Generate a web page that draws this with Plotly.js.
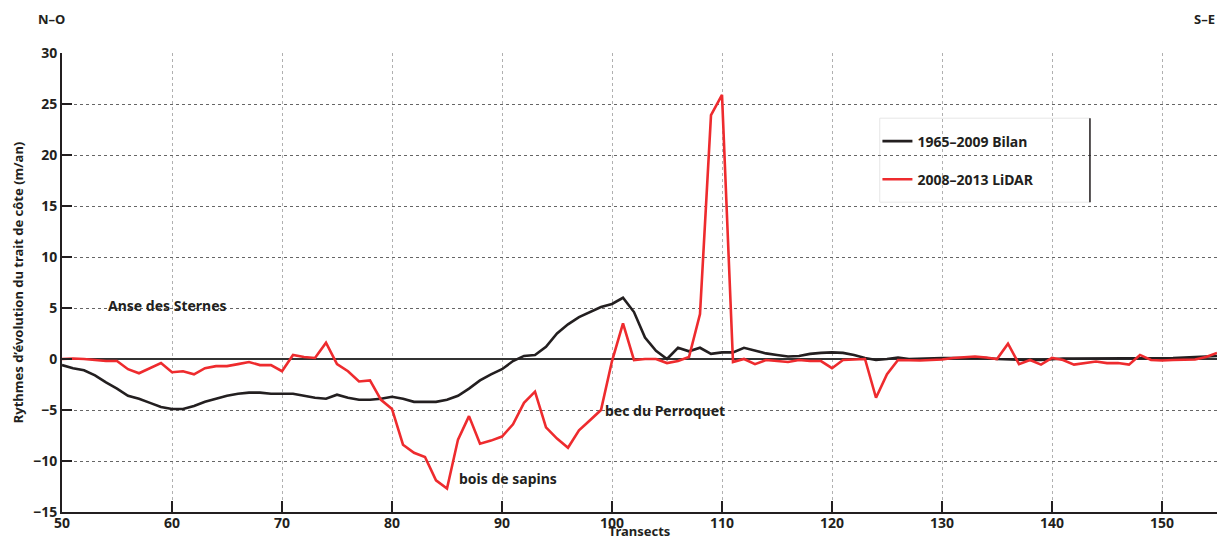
<!DOCTYPE html>
<html><head><meta charset="utf-8">
<script src="https://cdn.plot.ly/plotly-3.0.1.min.js"></script>
<style>body{margin:0;background:#fff}#c{width:1228px;height:540px}</style>
</head><body><div id="c"></div>
<script>
var transects = [];
for (var t = 50; t <= 155; t++) transects.push(t);

var bilan = [
 -0.6,-0.9,-1.1,-1.6,-2.3,-2.9,-3.6,-3.9,-4.3,-4.7,
 -4.9,-4.9,-4.6,-4.2,-3.9,-3.6,-3.4,-3.3,-3.3,-3.4,
 -3.4,-3.4,-3.6,-3.8,-3.9,-3.5,-3.8,-4.0,-4.0,-3.9,
 -3.7,-3.9,-4.2,-4.2,-4.2,-4.0,-3.6,-2.9,-2.1,-1.5,
 -1.0,-0.2,0.3,0.4,1.2,2.5,3.4,4.1,4.6,5.1,
 5.4,6.0,4.6,2.1,0.8,0.0,1.1,0.75,1.1,0.5,
 0.65,0.65,1.1,0.8,0.55,0.4,0.25,0.3,0.5,0.6,
 0.65,0.6,0.4,0.1,-0.1,0.0,0.15,0.0,0.05,0.05,
 0.1,0.1,0.1,0.1,0.1,0.0,-0.05,-0.1,-0.1,-0.1,
 0.0,0.05,0.05,0.05,0.1,0.1,0.1,0.1,0.1,0.1,
 0.1,0.1,0.15,0.2,0.25,0.3
];
var lidar = [
 0,0.05,0,-0.1,-0.2,-0.2,-1.0,-1.4,-0.9,-0.4,
 -1.3,-1.2,-1.5,-0.9,-0.7,-0.7,-0.5,-0.3,-0.6,-0.6,
 -1.2,0.4,0.2,0.1,1.6,-0.5,-1.2,-2.2,-2.1,-4.0,
 -4.9,-8.4,-9.2,-9.6,-11.9,-12.7,-7.9,-5.6,-8.3,-8.0,
 -7.6,-6.4,-4.3,-3.2,-6.7,-7.8,-8.7,-7.0,-6.0,-5.0,
 -0.2,3.5,-0.1,0,0,-0.4,-0.2,0.2,4.4,23.9,
 25.9,-0.3,0,-0.5,-0.1,-0.2,-0.3,-0.1,-0.2,-0.2,
 -0.9,-0.1,-0.05,0,-3.8,-1.5,-0.1,-0.15,-0.15,-0.1,
 -0.05,0.1,0.15,0.25,0.15,0,1.5,-0.5,-0.1,-0.55,
 0.1,-0.1,-0.55,-0.4,-0.25,-0.4,-0.4,-0.55,0.4,-0.1,
 -0.15,-0.1,-0.1,-0.05,0.2,0.6
];
var seriesNames = ['1965\u20132009 Bilan', '2008\u20132013 LiDAR'];
var xTicks = [50,60,70,80,90,100,110,120,130,140,150];
var yTicks = [-15,-10,-5,0,5,10,15,20,25,30];
var yTickText = ['\u221215','\u221210','\u22125','0','5','10','15','20','25','30'];

var F = 'Noto Sans, Open Sans, sans-serif';
var traces = [
 {x: transects, y: bilan, name: seriesNames[0], legendgroup: 'a', mode: 'lines', line: {color: '#231f20', width: 2.6}},
 {x: transects, y: lidar, name: seriesNames[1], legendgroup: 'b', mode: 'lines', line: {color: '#ee2b2e', width: 2.6}}
];
var layout = {
 width: 1228, height: 540,
 margin: {l: 62, r: 11, t: 53, b: 28},
 paper_bgcolor: '#fff', plot_bgcolor: '#fff',
 font: {family: F, size: 14, color: '#231f20', weight: 'bold'},
 showlegend: true,
 legend: {x: 0.706, y: 0.842, xanchor: 'left', yanchor: 'top', bgcolor: 'rgba(0,0,0,0)',
   borderwidth: 0, font: {family: F, size: 14, weight: 'bold', color: '#231f20'},
   tracegroupgap: 17},
 xaxis: {range: [50, 155], tickvals: xTicks, ticks: 'inside', ticklen: 11, tickwidth: 1.5, tickcolor: '#231f20',
   ticklabelstandoff: -3,
   showline: true, linecolor: '#231f20', linewidth: 2, showgrid: true, gridcolor: '#b0b0b0', griddash: 'dot', gridwidth: 1,
   zeroline: false, tickfont: {family: F, size: 14, weight: 'bold'},
   title: {text: 'Transects', font: {family: F, size: 13, weight: 'bold'}, standoff: 4}},
 yaxis: {range: [-15, 30], tickvals: yTicks, ticktext: yTickText, ticks: 'inside', ticklen: 10, tickwidth: 1.5, tickcolor: '#231f20',
   showline: true, linecolor: '#231f20', linewidth: 2, showgrid: true, gridcolor: '#666', griddash: 'dot', gridwidth: 1,
   zeroline: true, zerolinecolor: '#333', zerolinewidth: 1.5, tickfont: {family: F, size: 14, weight: 'bold'},
   title: {text: 'Rythmes d\u2019\u00e9volution du trait de c\u00f4te (m/an)', font: {family: F, size: 13, weight: 'bold'}, standoff: 6}},
 shapes: [
  {type: 'rect', xref: 'paper', yref: 'paper', x0: 0.708, x1: 0.890, y0: 0.675, y1: 0.858, layer: 'below',
   fillcolor: '#fff', line: {color: '#e6e6e6', width: 1}},
  {type: 'line', xref: 'paper', yref: 'paper', x0: 0.890, x1: 0.890, y0: 0.675, y1: 0.858, line: {color: '#231f20', width: 1.5}}
 ],
 annotations: [
  {text: 'N\u2013O', xref: 'paper', yref: 'paper', x: -0.009, y: 1.075, xanchor: 'center', yanchor: 'middle', showarrow: false, font: {family: F, size: 13, weight: 'bold'}},
  {text: 'S\u2013E', xref: 'paper', yref: 'paper', x: 0.989, y: 1.075, xanchor: 'center', yanchor: 'middle', showarrow: false, font: {family: F, size: 13, weight: 'bold'}},
  {text: 'Anse des Sternes', x: 59.6, y: 5.2, showarrow: false, font: {family: F, size: 14, weight: 'bold'}},
  {text: 'bois de sapins', x: 90.5, y: -11.7, showarrow: false, font: {family: F, size: 14, weight: 'bold'}},
  {text: 'bec du Perroquet', x: 104.8, y: -5.0, showarrow: false, font: {family: F, size: 14, weight: 'bold'}}
 ]
};
Plotly.newPlot('c', traces, layout, {displayModeBar: false, staticPlot: true});
</script></body></html>
